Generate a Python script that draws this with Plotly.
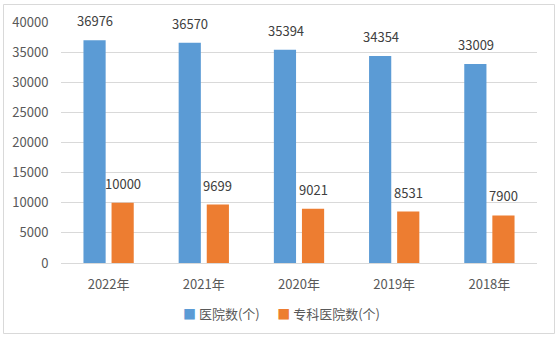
import plotly.graph_objects as go

years = ["2022年", "2021年", "2020年", "2019年", "2018年"]
hospitals = [36976, 36570, 35394, 34354, 33009]
specialty = [10000, 9699, 9021, 8531, 7900]
series_names = ["医院数(个)", "专科医院数(个)"]
colors = ["#5b9bd5", "#ed7d31"]

W, H = 559, 338
L, R, T, B = 61, 22, 22, 75
pw = W - L - R
ph = H - T - B

FONT = "Noto Sans CJK SC"
TXT = "#404040"
AX = "#595959"

fig = go.Figure()
for name, vals, col in zip(series_names, [hospitals, specialty], colors):
    fig.add_trace(go.Bar(
        x=years, y=vals, name=name,
        marker=dict(color=col, line=dict(width=0)),
        showlegend=False,
    ))

# value labels above each bar
offsets = [-13.5, 14]
for vals, dx in zip([hospitals, specialty], offsets):
    for yr, v in zip(years, vals):
        fig.add_annotation(x=yr, y=v, xref="x", yref="y", text=str(v),
                           showarrow=False, xanchor="center", yanchor="bottom",
                           xshift=dx, yshift=8,
                           font=dict(family=FONT, size=13, color=TXT))

def px_x(v):
    return (v - L) / pw

def px_y(v):
    return (H - B - v) / ph

# legend row beneath the plot
legend_text = "      ".join(
    f"<span style='color:{c}'>■</span> {n}" for n, c in zip(series_names, colors)
)
fig.add_annotation(x=px_x(281), y=px_y(313), xref="paper", yref="paper",
                   text=legend_text, showarrow=False, xanchor="center",
                   yanchor="middle", font=dict(family=FONT, size=13, color=AX))

# outer chart frame
fig.add_shape(type="rect", xref="paper", yref="paper",
              x0=px_x(3.5), x1=px_x(554.5), y0=px_y(4.5), y1=px_y(333.5),
              line=dict(color="#d9d9d9", width=1), fillcolor="rgba(0,0,0,0)",
              layer="below")

fig.update_layout(
    width=W, height=H,
    margin=dict(l=L, r=R, t=T, b=B, autoexpand=False),
    paper_bgcolor="white", plot_bgcolor="white",
    barmode="group", bargap=0.41, bargroupgap=0.21,
    font=dict(family=FONT, size=13, color=AX),
    xaxis=dict(showgrid=False, showline=True, linecolor="#d9d9d9",
               ticks="outside", ticklen=9, tickcolor="rgba(0,0,0,0)",
               tickfont=dict(size=13, color=AX)),
    yaxis=dict(range=[0, 40000], dtick=5000, showgrid=True,
               gridcolor="#d9d9d9", gridwidth=1, zeroline=False,
               showline=False, ticks="outside", ticklen=9,
               tickcolor="rgba(0,0,0,0)",
               tickfont=dict(size=13, color=AX), tickformat="d"),
    showlegend=False,
)

fig.write_html("out.html")
